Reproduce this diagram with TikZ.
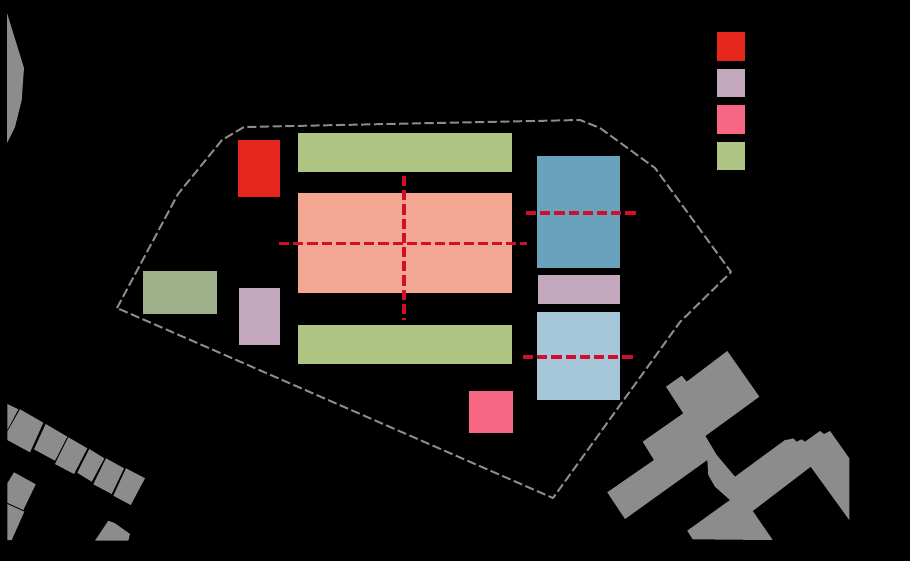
\documentclass[tikz,border=0pt]{standalone}
\usepackage{tikz}
\usetikzlibrary{positioning}
\definecolor{zonered}{RGB}{228,38,28}
\definecolor{zonemauve}{RGB}{194,167,189}
\definecolor{zonepink}{RGB}{247,102,130}
\definecolor{zonegreen}{RGB}{175,197,131}
\definecolor{zonesage}{RGB}{158,176,138}
\definecolor{zonesalmon}{RGB}{243,167,146}
\definecolor{zoneblue}{RGB}{106,162,189}
\definecolor{zonesky}{RGB}{166,199,218}
\definecolor{axisred}{RGB}{208,16,42}
\definecolor{blockgrey}{RGB}{140,140,140}
\tikzset{
  zone/.style={rectangle, draw=none, inner sep=0pt, outer sep=0pt},
  keybox/.style={zone, minimum width=0.71cm, minimum height=0.71cm},
  axis/.style={line width=2.5pt, axisred, dash pattern=on 7.2pt off 2.9pt},
  siteline/.style={line width=1.4pt, blockgrey, dash pattern=on 6.5pt off 2.5pt, line join=round},
  block/.style={fill=blockgrey},
}

\begin{document}
\begin{tikzpicture}[x=0.025cm, y=-0.025cm]
  \fill[black] (0,0) rectangle (910,561);

  % --- the site boundary ---------------------------------------------------
  \draw[siteline] (117,308) -- (178,194) -- (222,140) -- (244,127) -- (580,120)
    -- (600,128) -- (655,168) -- (731,272) -- (680,322) -- (553,498) -- cycle;

  % --- the zones -------------------------------------------------------------
  \node[zone, fill=zonered, minimum width=1.05cm, minimum height=1.425cm] (redblock) at (259,168.5) {};
  \node[zone, fill=zonemauve, minimum width=1.025cm, minimum height=1.425cm] (mauveleft) at (259.5,316.5) {};
  \node[zone, fill=zonesage, minimum width=1.85cm, minimum height=1.075cm] (sageleft) at (180,292.5) {};
  \node[zone, fill=zonegreen, minimum width=5.35cm, minimum height=0.975cm] (greentop) at (405,152.5) {};
  \node[zone, fill=zonesalmon, minimum width=5.35cm, minimum height=2.5cm] (salmon) at (405,243) {};
  \node[zone, fill=zonegreen, minimum width=5.35cm, minimum height=0.975cm] (greenbottom) at (405,344.5) {};
  \node[zone, fill=zonepink, minimum width=1.1cm, minimum height=1.05cm] (pinkblock) at (491,412) {};
  \node[zone, fill=zoneblue, minimum width=2.075cm, minimum height=2.8cm] (blueblock) at (578.5,212) {};
  \node[zone, fill=zonemauve, minimum width=2.05cm, minimum height=0.725cm] (mauveright) at (579,289.5) {};
  \node[zone, fill=zonesky, minimum width=2.075cm, minimum height=2.2cm] (skyblock) at (578.5,356) {};

  % --- the axes --------------------------------------------------------------
  \coordinate (vtop) at (404,176);
  \coordinate (vbot) at (404,320);
  \coordinate (hleft) at (279,243.5);
  \coordinate (hright) at (527,243.5);
  \coordinate (bleft) at (526,213);
  \coordinate (bright) at (636,213);
  \coordinate (sleft) at (523,357);
  \coordinate (sright) at (633,357);
  \draw[axis] (vtop) -- (vbot);
  \draw[axis] (hleft) -- (hright);
  \draw[axis] (bleft) -- (bright);
  \draw[axis] (sleft) -- (sright);

  % --- the legend ------------------------------------------------------------
  \node[keybox, fill=zonered] (keyred) at (731,46.5) {};
  \node[keybox, fill=zonemauve, below=0.2cm of keyred] (keymauve) {};
  \node[keybox, fill=zonepink, below=0.2cm of keymauve] (keypink) {};
  \node[keybox, fill=zonegreen, below=0.2cm of keypink] (keygreen) {};

  % --- surrounding buildings -------------------------------------------------
  % top left
  \fill[block] (7,13) -- (24,68) -- (21.7,100) -- (15,127) -- (7,143) -- cycle;
  % row bottom left
  \fill[block] (7.3,404) -- (18.3,409.3) -- (7.3,430) -- cycle;
  \fill[block] (20,409.3) -- (43.3,422.7) -- (30,452.3) -- (7.3,440) -- (7.3,431.7) -- cycle;
  \fill[block] (45.7,424) -- (67.3,436.7) -- (55,460.7) -- (34,449.3) -- cycle;
  \fill[block] (68.3,437.3) -- (87.3,448.3) -- (74,474) -- (55,464) -- cycle;
  \fill[block] (89.3,449) -- (104.3,458.3) -- (91.7,481.7) -- (77.3,472.7) -- cycle;
  \fill[block] (106,458.3) -- (124,468.3) -- (111.7,494) -- (93.3,484.3) -- cycle;
  \fill[block] (126,468.3) -- (145,478.3) -- (130.7,505) -- (113.3,495.7) -- cycle;
  \fill[block] (14,472.3) -- (35.7,484.3) -- (23.3,510) -- (7.3,502.7) -- (7.3,483.3) -- cycle;
  \fill[block] (7.3,504) -- (24.3,511.7) -- (11.7,540) -- (7.3,540) -- cycle;
  \fill[block] (108.3,520.7) -- (115,523.3) -- (130,534) -- (128.3,540.7) -- (95,540.7) -- cycle;
  % complex bottom right
  \fill[block] (727.3,351) -- (759.3,396.7) -- (705.3,436) -- (716.7,455) -- (735,476.7)
    -- (785,440) -- (790,439.3) -- (793.3,438.3) -- (796.7,441.7) -- (801.7,439.3)
    -- (805,441.7) -- (820,431) -- (824,434) -- (830,431) -- (849.3,458.3) -- (849.3,520)
    -- (810.7,466.7) -- (752.7,511) -- (772.7,540) -- (692.7,539.3) -- (687.3,530.7)
    -- (730,500) -- (715,486.7) -- (708.3,475) -- (707.3,460) -- (625,519) -- (607.3,492.3)
    -- (654,460) -- (642.7,441.7) -- (683.3,413.3) -- (666,386.7) -- (681.7,375.7)
    -- (686.7,381.7) -- cycle;
\end{tikzpicture}
\end{document}
